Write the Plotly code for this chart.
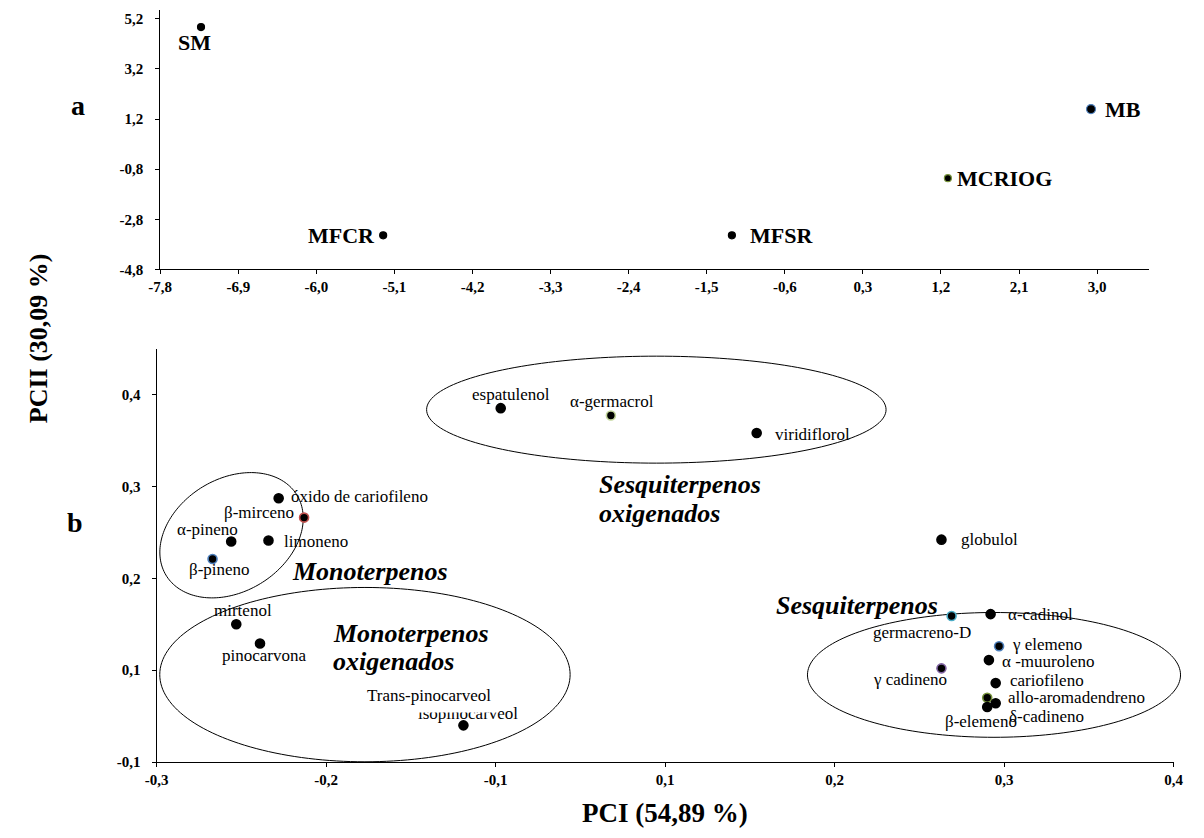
import numpy as np
import plotly.graph_objects as go

W, H = 1204, 838
SERIF = "Liberation Serif, Times New Roman, serif"

# ---------------- panel a: sample scores ----------------
samples = ["SM", "MFCR", "MFSR", "MCRIOG", "MB"]
score_pc1 = [-7.33, -5.23, -1.21, 1.28, 2.93]
score_pc2 = [4.87, -3.44, -3.44, -1.16, 1.60]
a_xticks = [-7.8, -6.9, -6.0, -5.1, -4.2, -3.3, -2.4, -1.5, -0.6, 0.3, 1.2, 2.1, 3.0]
a_yticks = [5.2, 3.2, 1.2, -0.8, -2.8, -4.8]

# ---------------- panel b: compound loadings ----------------
compounds = ["espatulenol", "α-germacrol", "viridiflorol", "óxido de cariofileno",
             "β-mirceno", "α-pineno", "limoneno", "β-pineno", "mirtenol",
             "pinocarvona", "isopinocarveol", "globulol", "germacreno-D",
             "α-cadinol", "γ elemeno", "α -muuroleno", "γ cadineno",
             "cariofileno", "allo-aromadendreno", "δ-cadineno", "β-elemeno"]
load_pc1 = [-0.097, -0.032, 0.054, -0.228, -0.213, -0.256, -0.234, -0.267, -0.253,
            -0.239, -0.119, 0.163, 0.169, 0.192, 0.197, 0.191, 0.163,
            0.195, 0.190, 0.195, 0.190]
load_pc2 = [0.385, 0.377, 0.358, 0.287, 0.266, 0.240, 0.241, 0.221, 0.150,
            0.129, 0.040, 0.242, 0.159, 0.161, 0.126, 0.111, 0.102,
            0.086, 0.070, 0.064, 0.060]
b_xticks = [-0.3, -0.2, -0.1, 0.0, 0.1, 0.2, 0.3]
b_xticktext = ["-0,3", "-0,2", "-0,1", "0,1", "0,2", "0,3", "0,4"]
b_yticks = [0.0, 0.1, 0.2, 0.3, 0.4]
b_yticktext = ["-0,1", "0,1", "0,2", "0,3", "0,4"]

# marker outline colours (Office theme palette)
sample_edge = ["black", "black", "black", "#77933c", "#4f81bd"]
compound_edge = {"α-germacrol": "#c3d69b", "β-mirceno": "#c0504d", "β-pineno": "#4f81bd",
                 "germacreno-D": "#4bacc6", "γ elemeno": "#4f81bd", "γ cadineno": "#8064a2",
                 "allo-aromadendreno": "#77933c"}

# label placement: (anchor, dx px, dy px; dy downwards)
sample_lbl = {"SM": ("center", -7, 15), "MFCR": ("right", -6, 0), "MFSR": ("left", 16, 0),
              "MCRIOG": ("left", 7, 0), "MB": ("left", 12, 0)}
compound_lbl = {
    "espatulenol": ("center", 10, -14), "α-germacrol": ("center", 1, -14),
    "viridiflorol": ("left", 16, 1), "óxido de cariofileno": ("left", 10, -2),
    "β-mirceno": ("right", -8, -5), "α-pineno": ("center", -24, -12),
    "limoneno": ("left", 14, 1), "β-pineno": ("center", 7, 11),
    "mirtenol": ("center", 7, -14), "pinocarvona": ("center", 4, 12),
    "isopinocarveol": ("center", 5, -12), "globulol": ("left", 18, 0),
    "germacreno-D": ("center", -30, 17), "α-cadinol": ("left", 15, 0),
    "γ elemeno": ("left", 11, -2), "α -muuroleno": ("left", 11, 1),
    "γ cadineno": ("right", 8, 11), "cariofileno": ("left", 12, -3),
    "allo-aromadendreno": ("left", 19, 0), "δ-cadineno": ("left", 11, 13),
    "β-elemeno": ("center", -6, 15)}

# subplot geometry (pixels)
A_X0, A_X1, A_Y0, A_Y1 = 151, 1158.3, 272, 10
B_X0, B_X1, B_Y0, B_Y1 = 147.3, 1183.3, 769.5, 352.7
a_xrange = [-7.8, 3.6]
a_yrange = [-4.8, 5.556]
b_xrange = [-0.3, 0.3]
b_yrange = [0.0, 0.449]

fig = go.Figure()

fig.add_trace(go.Scatter(
    x=score_pc1, y=score_pc2, mode="markers", xaxis="x", yaxis="y",
    marker=dict(color="black", size=[7, 7, 7, 7, 9], opacity=1,
                line=dict(color=sample_edge, width=1.2)),
    hoverinfo="text", text=samples, showlegend=False, cliponaxis=False))

fig.add_trace(go.Scatter(
    x=load_pc1, y=load_pc2, mode="markers", xaxis="x2", yaxis="y2",
    marker=dict(color="black", size=9, opacity=1,
                line=dict(color=[compound_edge.get(c, "black") for c in compounds], width=1.6)),
    hoverinfo="text", text=compounds, showlegend=False, cliponaxis=False))

anns = []
for name, x, y in zip(samples, score_pc1, score_pc2):
    anc, dx, dy = sample_lbl[name]
    anns.append(dict(x=x, y=y, xref="x", yref="y", text=name, showarrow=False,
                     xanchor=anc, yanchor="middle", xshift=dx, yshift=-dy,
                     font=dict(family=SERIF, size=22, color="black", weight="bold")))

for name, x, y in zip(compounds, load_pc1, load_pc2):
    anc, dx, dy = compound_lbl[name]
    anns.append(dict(x=x, y=y, xref="x2", yref="y2", text=name, showarrow=False,
                     xanchor=anc, yanchor="middle", xshift=dx, yshift=-dy,
                     font=dict(family=SERIF, size=17, color="black")))

# label whose white box partly hides the isopinocarveol label
iso = compounds.index("isopinocarveol")
anns.append(dict(x=load_pc1[iso], y=load_pc2[iso], xref="x2", yref="y2",
                 text="Trans-pinocarveol", showarrow=False, xanchor="center",
                 yanchor="middle", xshift=-34, yshift=30, bgcolor="white", borderpad=7,
                 font=dict(family=SERIF, size=17, color="black")))


def paper(px, py):
    return px / W, 1 - py / H


def group_label(text, px, py):
    x, y = paper(px, py)
    anns.append(dict(x=x, y=y, xref="paper", yref="paper", text=text, showarrow=False,
                     xanchor="left", yanchor="middle",
                     font=dict(family=SERIF, size=26, color="black", weight="bold",
                               style="italic")))


group_label("Sesquiterpenos", 596, 489)
group_label("oxigenados", 596, 518)
group_label("Monoterpenos", 283, 577)
group_label("Monoterpenos", 325, 640)
group_label("oxigenados", 325, 668)
group_label("Sesquiterpenos", 776, 611)

for txt, px, py in [("a", 67, 107), ("b", 64, 528)]:
    x, y = paper(px, py)
    anns.append(dict(x=x, y=y, xref="paper", yref="paper", text=txt, showarrow=False,
                     xanchor="center", yanchor="middle",
                     font=dict(family=SERIF, size=28, color="black", weight="bold")))

x, y = paper(665, 821)
anns.append(dict(x=x, y=y, xref="paper", yref="paper", text="PCI (54,89 %)", showarrow=False,
                 xanchor="center", yanchor="middle",
                 font=dict(family=SERIF, size=27, color="black", weight="bold")))
x, y = paper(27, 342)
anns.append(dict(x=x, y=y, xref="paper", yref="paper", text="PCII (30,09 %)", showarrow=False,
                 xanchor="center", yanchor="middle", textangle=-90,
                 font=dict(family=SERIF, size=26, color="black", weight="bold")))


# ellipses enclosing the compound groups (panel b), built in pixel space
def b_to_px(x, y):
    px = B_X0 + (x - b_xrange[0]) / (b_xrange[1] - b_xrange[0]) * (B_X1 - B_X0)
    py = B_Y0 - (y - b_yrange[0]) / (b_yrange[1] - b_yrange[0]) * (B_Y0 - B_Y1)
    return px, py


def ellipse(cx, cy, rx, ry, angle=0.0):
    pcx, pcy = b_to_px(cx, cy)
    t = np.linspace(0, 2 * np.pi, 181)
    a = np.radians(angle)
    ex = rx * np.cos(t)
    ey = ry * np.sin(t)
    px = pcx + ex * np.cos(a) - ey * np.sin(a)
    py = pcy - (ex * np.sin(a) + ey * np.cos(a))
    pts = [paper(u, v) for u, v in zip(px, py)]
    path = "M " + " L ".join(f"{u:.5f},{v:.5f}" for u, v in pts) + " Z"
    return dict(type="path", path=path, xref="paper", yref="paper",
                line=dict(color="black", width=1), fillcolor="rgba(0,0,0,0)", layer="below")


shapes = [
    ellipse(-0.0052, 0.3834, 234, 54),
    ellipse(-0.2558, 0.2468, 78, 57, 31),
    ellipse(-0.1771, 0.0952, 209, 88),
    ellipse(0.1940, 0.0949, 190, 63),
]


def fmt(v):
    return f"{v:.1f}".replace(".", ",")


def bold(labels):
    return [f"<b>{t}</b>" for t in labels]


axis_common = dict(showline=True, linecolor="black", linewidth=1, ticks="outside",
                   ticklen=4, tickcolor="black", tickwidth=1, showgrid=False,
                   zeroline=False, fixedrange=True,
                   tickfont=dict(family=SERIF, size=15, color="black"))

fig.update_layout(
    width=W, height=H, margin=dict(l=0, r=0, t=0, b=0),
    paper_bgcolor="white", plot_bgcolor="white", showlegend=False,
    xaxis=dict(domain=[A_X0 / W, A_X1 / W], range=a_xrange, anchor="y",
               tickvals=a_xticks, ticktext=bold(fmt(v) for v in a_xticks), **axis_common),
    yaxis=dict(domain=[1 - A_Y0 / H, 1 - A_Y1 / H], range=a_yrange, anchor="x",
               tickvals=a_yticks, ticktext=bold(fmt(v) for v in a_yticks),
               ticklabelstandoff=9, **axis_common),
    xaxis2=dict(domain=[B_X0 / W, B_X1 / W], range=b_xrange, anchor="y2",
                tickvals=b_xticks, ticktext=bold(b_xticktext), **axis_common),
    yaxis2=dict(domain=[1 - B_Y0 / H, 1 - B_Y1 / H], range=b_yrange, anchor="x2",
                tickvals=b_yticks, ticktext=bold(b_yticktext), ticklabelstandoff=8,
                **axis_common),
    annotations=anns, shapes=shapes,
)

fig.write_html("out.html")
